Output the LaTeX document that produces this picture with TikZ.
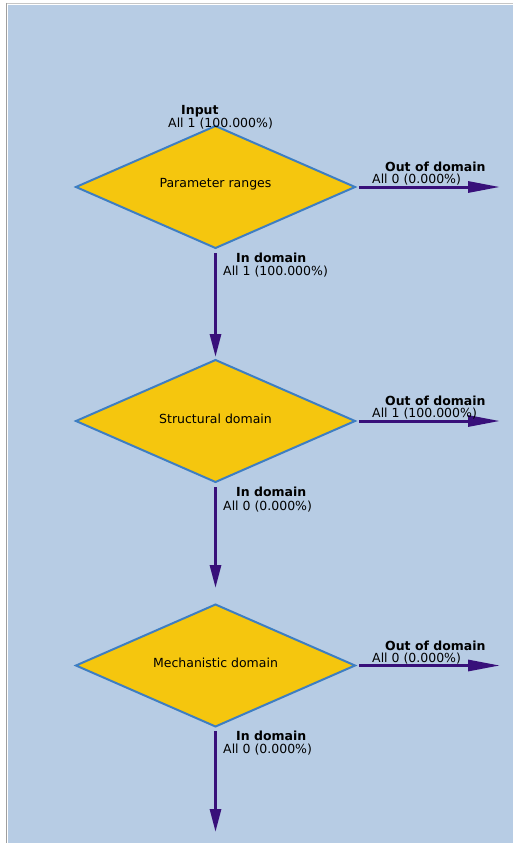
\documentclass[tikz,border=0pt]{standalone}
\usepackage{fontspec}
\setmainfont{DejaVu Sans}
\usetikzlibrary{shapes.geometric,arrows.meta}
\definecolor{bgblue}{HTML}{B7CCE4}
\definecolor{dfill}{HTML}{F5C60E}
\definecolor{dline}{HTML}{3E7EC2}
\definecolor{arr}{HTML}{38107A}
\definecolor{txt}{HTML}{000000}
\tikzset{
  dec/.style={diamond, draw=dline, line width=2pt, fill=dfill, inner sep=0pt, outer sep=0pt,
    minimum width=279pt, minimum height=122pt, aspect=2.27, text=txt,
    font=\fontsize{12.5}{13}\selectfont},
  dtext/.style={inner sep=0pt, text=txt, font=\fontsize{12.5}{13}\selectfont},
  flowright/.style={draw=arr, line width=3pt, -{Triangle[length=32pt,width=11pt]}},
  flowdown/.style={draw=arr, line width=3pt, -{Triangle[length=23pt,width=11pt]}},
  lbold/.style={anchor=base west, inner sep=0pt, text=txt, font=\fontsize{12.5}{13}\selectfont\bfseries},
  lnorm/.style={anchor=base west, inner sep=0pt, text=txt, font=\fontsize{12.5}{13}\selectfont},
}
\begin{document}
\begin{tikzpicture}[x=1pt,y=-1pt]
\useasboundingbox (0,0) rectangle (513,843);
\fill[white] (0,0) rectangle (513,843);
\fill[bgblue] (8,5) rectangle (513,843);
\draw[gray!45, line width=1.2pt] (6,3.5) -- (513,3.5);
\draw[gray!75, line width=1.5pt] (6.5,3) -- (6.5,843);

\node[dec] (d1) at (215.5,187) {};
\node[dec] (d2) at (215.5,421) {};
\node[dec] (d3) at (215.5,665.5) {};
\node[dtext] (t1) at (215.5,184.5) {Parameter ranges};
\node[dtext] (t2) at (215.5,418.5) {Structural domain};
\node[dtext] (t3) at (215.5,663) {Mechanistic domain};

\coordinate (o1) at (500,187);
\coordinate (o2) at (500,421);
\coordinate (o3) at (500,665.5);
\coordinate (e3) at (215.5,832);

\draw[flowright, shorten <=4pt] (d1.east) -- (o1);
\draw[flowright, shorten <=4pt] (d2.east) -- (o2);
\draw[flowright, shorten <=4pt] (d3.east) -- (o3);
\draw[flowdown, shorten <=5pt, shorten >=3pt] (d1.south) -- (d2.north);
\draw[flowdown, shorten <=5pt, shorten >=16.5pt] (d2.south) -- (d3.north);
\draw[flowdown, shorten <=4.5pt] (d3.south) -- (e3);

\node[lbold] (in0) at (181,114) {Input};
\node[lnorm] (in0v) at (168,127) {All 1 (100.000\%)};

\node[lbold] (out1) at (385,171) {Out of domain};
\node[lnorm] (out1v) at (372,183) {All 0 (0.000\%)};
\node[lbold] (dom1) at (236,262) {In domain};
\node[lnorm] (dom1v) at (223,275) {All 1 (100.000\%)};

\node[lbold] (out2) at (385,405) {Out of domain};
\node[lnorm] (out2v) at (372,417) {All 1 (100.000\%)};
\node[lbold] (dom2) at (236,496) {In domain};
\node[lnorm] (dom2v) at (223,510) {All 0 (0.000\%)};

\node[lbold] (out3) at (385,650) {Out of domain};
\node[lnorm] (out3v) at (372,662) {All 0 (0.000\%)};
\node[lbold] (dom3) at (236,740) {In domain};
\node[lnorm] (dom3v) at (223,753) {All 0 (0.000\%)};
\end{tikzpicture}
\end{document}
